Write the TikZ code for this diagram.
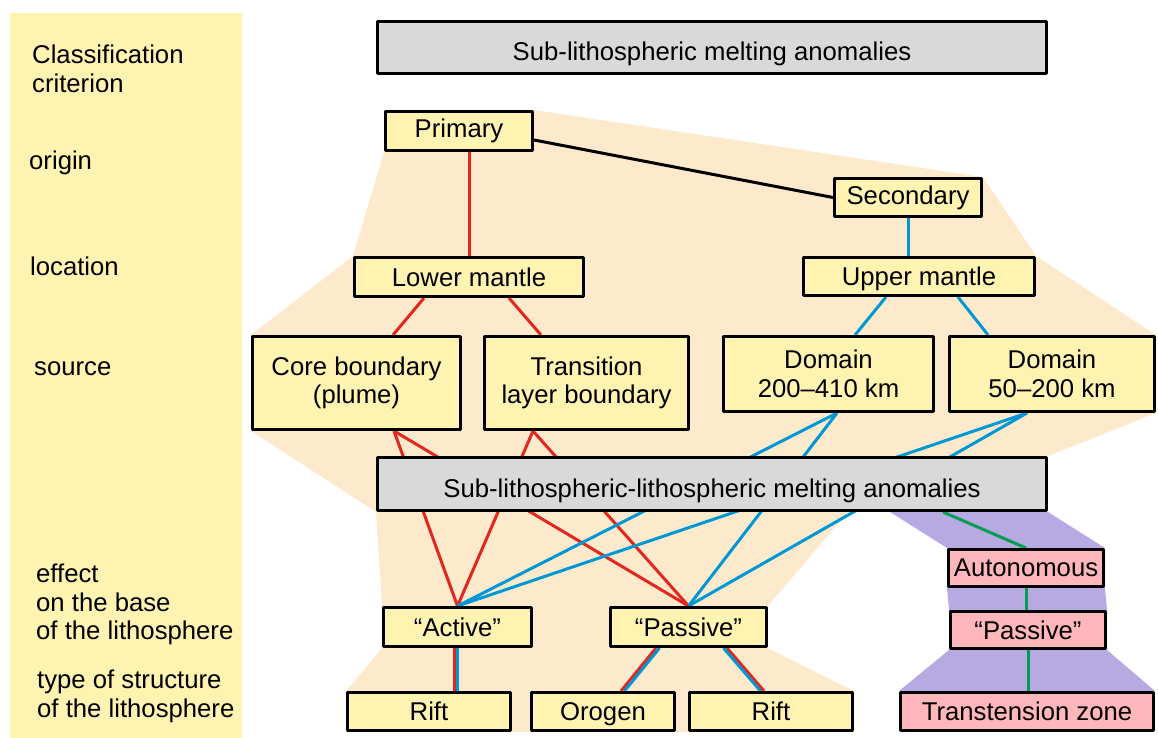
\documentclass[tikz,border=0pt]{standalone}
\usepackage{fontspec}
\setmainfont{Liberation Sans}
\usetikzlibrary{backgrounds}
\definecolor{boxfill}{RGB}{255,243,178}
\definecolor{peach}{RGB}{253,234,205}
\definecolor{anomgray}{RGB}{217,217,217}
\definecolor{pinkfill}{RGB}{255,183,187}
\definecolor{lilac}{RGB}{183,170,227}
\definecolor{plumered}{RGB}{226,39,31}
\definecolor{upperblue}{RGB}{0,152,212}
\definecolor{autgreen}{RGB}{0,158,80}
\tikzset{
    lab/.style={
        font=\fontsize{25.7}{28.5}\selectfont
    }
}

\begin{document}
\begin{tikzpicture}[x=1pt,y=-1pt, line join=round]

\tikzset{
  box/.style={draw=black, line width=3pt, fill=boxfill, inner sep=0pt, align=center, lab},
  greybox/.style={box, fill=anomgray, text height=27pt, text depth=0pt},
  pinkbox/.style={box, fill=pinkfill},
  critlab/.style={lab, inner sep=0pt, align=left},
  redln/.style={draw=plumered, line width=3pt},
  blueln/.style={draw=upperblue, line width=3pt},
  greenln/.style={draw=autgreen, line width=3pt},
  blackln/.style={draw=black, line width=3pt},
}

\useasboundingbox (0,0) rectangle (1158,738);

% criterion column
\node[critlab, anchor=north west] (crit) at (32,45) {Classification\\criterion};
\node[critlab, anchor=base west] (origin) at (29,170) {origin};
\node[critlab, anchor=base west] (location) at (30,275) {location};
\node[critlab, anchor=base west] (source) at (34,375) {source};
\node[critlab, anchor=north west] (effect) at (36,564) {effect\\on the base\\of the lithosphere};
\node[critlab, anchor=north west] (structure) at (37,670) {type of structure\\of the lithosphere};

% anomalies
\node[greybox, minimum width=669pt, minimum height=52pt] (subanom) at (712,47.5) {Sub-lithospheric melting anomalies};
\node[greybox, minimum width=669pt, minimum height=53pt] (sublith) at (712,484) {Sub-lithospheric-lithospheric melting anomalies};

% origin / location / source
\node[box, minimum width=147pt, minimum height=39pt] (primary) at (459,131) {Primary};
\node[box, minimum width=147pt, minimum height=38pt] (second) at (908,197.5) {Secondary};
\node[box, minimum width=229pt, minimum height=39pt] (lower) at (469,277) {Lower mantle};
\node[box, minimum width=231pt, minimum height=38pt, text depth=0pt] (upper) at (919,276.5) {Upper mantle};
\node[box, minimum width=208pt, minimum height=93pt] (core) at (356.5,383) {Core boundary\\(plume)};
\node[box, minimum width=204pt, minimum height=93pt] (trans) at (586.5,383) {Transition\\layer boundary};
\node[box, minimum width=210pt, minimum height=75pt] (dom410) at (828.5,374) {Domain\\200–410 km};
\node[box, minimum width=205pt, minimum height=75pt] (dom200) at (1052,374) {Domain\\50–200 km};

% effect / structure
\node[box, minimum width=148pt, minimum height=39pt] (active) at (457.5,627) {“Active”};
\node[box, minimum width=156pt, minimum height=39pt] (passive) at (688.5,627) {“Passive”};
\node[box, minimum width=163pt, minimum height=38pt] (riftA) at (429,711.5) {Rift};
\node[box, minimum width=143pt, minimum height=38pt, text depth=0pt] (orogen) at (603,711.5) {Orogen};
\node[box, minimum width=163pt, minimum height=38pt] (riftB) at (771,711.5) {Rift};
\node[pinkbox, minimum width=155pt, minimum height=37pt] (auton) at (1026,568) {Autonomous};
\node[pinkbox, minimum width=155pt, minimum height=37pt] (ppass) at (1028,630) {“Passive”};
\node[pinkbox, minimum width=253pt, minimum height=38pt] (transt) at (1027,711.5) {Transtension zone};

\begin{scope}[on background layer]
% panels
\fill[boxfill] (10,13) rectangle (242,738);
\fill[peach] (primary.north west) -- (primary.north east) -- (second.north east)
  -- (upper.north east) -- (dom200.north east) -- (dom200.south east)
  -- (sublith.north east) -- ([xshift=472pt]sublith.south west)
  -- (passive.north east) -- (passive.south east) -- (riftB.north east)
  -- (riftB.south east) -- (riftA.south west) -- (riftA.north west)
  -- (active.south west) -- (active.north west) -- (sublith.south west)
  -- (core.south west) -- (core.north west) -- (lower.north west)
  -- (primary.south west) -- cycle;
\fill[lilac] ([xshift=514pt]sublith.south west) -- (auton.north west) -- (auton.south west)
  -- (ppass.north west) -- (ppass.south west) -- (transt.north west)
  -- (transt.north east) -- (ppass.south east) -- (ppass.north east)
  -- (auton.south east) -- (auton.north east) -- (sublith.south east) -- cycle;

% origin
\draw[blackln] ([yshift=-9pt]primary.east) -- (second.west);
\draw[redln] (lower.north |- primary.south) -- (lower.north);
\draw[blueln] (second.south) -- (second.south |- upper.north);

% source
\draw[redln] ([xshift=71pt]lower.south west) -- ([xshift=142pt]core.north west);
\draw[redln] ([xshift=156pt]lower.south west) -- ([xshift=58pt]trans.north west);
\draw[blueln] ([xshift=84pt]upper.south west) -- ([xshift=133pt]dom410.north west);
\draw[blueln] ([xshift=156pt]upper.south west) -- ([xshift=40pt]dom200.north west);

% effect on the base
\draw[redln] ([xshift=143pt]core.south west) -- (active.north);
\draw[redln] ([xshift=143pt]core.south west) -- (passive.north);
\draw[redln] ([xshift=50pt]trans.south west) -- (active.north);
\draw[redln] ([xshift=50pt]trans.south west) -- (passive.north);
\draw[blueln] ([xshift=115pt]dom410.south west) -- (active.north);
\draw[blueln] ([xshift=115pt]dom410.south west) -- (passive.north);
\draw[blueln] ([xshift=79pt]dom200.south west) -- (active.north);
\draw[blueln] ([xshift=79pt]dom200.south west) -- (passive.north);

% type of structure
\draw[redln] ([xshift=-3pt]active.south) -- ([xshift=-3pt]active.south |- riftA.north);
\draw[blueln] (active.south) -- (active.south |- riftA.north);
\draw[redln] ([xshift=47pt]passive.south west) -- ([xshift=91pt]orogen.north west);
\draw[blueln] ([xshift=50.5pt]passive.south west) -- ([xshift=94.5pt]orogen.north west);
\draw[redln] ([xshift=118pt]passive.south west) -- ([xshift=76pt]riftB.north west);
\draw[blueln] ([xshift=114.5pt]passive.south west) -- ([xshift=72.5pt]riftB.north west);

% autonomous branch
\draw[greenln] ([xshift=567pt]sublith.south west) -- (auton.north);
\draw[greenln] (auton.south) -- (auton.south |- ppass.north);
\draw[greenln] (ppass.south) -- (ppass.south |- transt.north);
\end{scope}

\end{tikzpicture}
\end{document}
